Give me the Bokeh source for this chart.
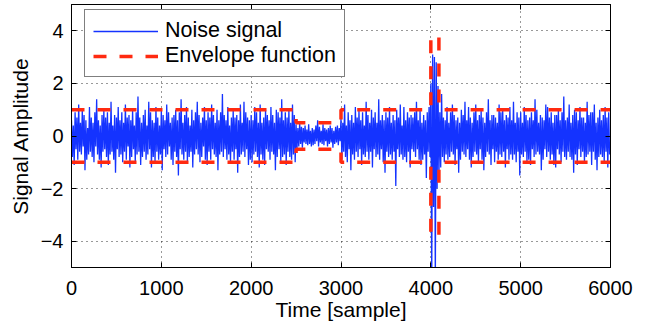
import numpy as np
from bokeh.plotting import figure
from bokeh.models import (LinearAxis, FixedTicker, Legend, LegendItem, Range1d,
                          ColumnDataSource, CustomLabelingPolicy)
from bokeh.embed import file_html
from bokeh.resources import INLINE

# ---------------- data ----------------
x_ticks = [0, 1000, 2000, 3000, 4000, 5000, 6000]
y_ticks = [-4, -2, 0, 2, 4]
y_tick_labels = ["\u22124", "\u22122", "0", "2", "4"]
x_label = "Time [sample]"
y_label = "Signal Amplitude"

sample_step = 10  # one value per 10 samples

# samples 0 .. 2490
noise_a = [
    .6, -.8, .4, -1.1, .9, -.5, .7, -.9, 1.2, -.6,
    .5, -.7, 1.0, -.4, .8, -1.3, .6, -.9, .3, -.7,
    1.1, -.6, .7, -.8, .5, -1.0, .9, -.4, 1.4, -.7,
    .6, -.9, .4, -1.2, .8, -.6, 1.0, -.5, .7, -.8,
    .9, -1.1, .5, -.7, 1.3, -.6, .4, -.9, .8, -1.4,
    .7, -.5, 1.1, -.8, .6, -.7, .9, -1.0, .5, -.6,
    1.2, -.9, .7, -.4, .8, -1.2, .6, -.8, 1.0, -.5,
    .4, -1.0, .9, -.7, 1.5, -.6, .7, -1.1, .5, -.8,
    .8, -.6, 1.0, -.9, .4, -.7, 1.3, -.5, .9, -1.2,
    .6, -.8, .5, -1.0, 1.1, -.6, .7, -.9, .4, -.7,
    1.0, -1.3, .8, -.5, .6, -.8, 1.2, -.7, .9, -.4,
    .5, -.9, .7, -1.1, .8, -.6, 1.0, -.8, .6, -1.5,
    .9, -.5, 1.4, -.7, .5, -.9, .8, -.6, 1.1, -1.0,
    .7, -.8, .4, -.6, 1.0, -1.2, .6, -.7, .9, -.5,
    1.3, -.7, .8, -1.0, .5, -.8, .7, -.4, 1.1, -.9,
    .6, -1.1, .9, -.6, .7, -.9, 1.2, -.5, .8, -.7,
    .5, -.8, 1.0, -1.3, .6, -.7, .9, -.6, 1.6, -.8,
    .8, -.5, .6, -.9, 1.1, -.7, .4, -1.0, .7, -.6,
    1.0, -.9, .7, -.5, .8, -1.4, .6, -.8, 1.2, -.7,
    .5, -.6, 1.3, -.8, .9, -.5, .7, -1.1, .6, -.9,
    .8, -1.0, .6, -.7, 1.1, -.6, .9, -.8, .5, -1.2,
    1.2, -.7, .5, -.9, .7, -1.1, 1.0, -.5, .8, -.6,
    .6, -.9, 1.1, -.6, .8, -.7, .5, -1.3, 1.0, -.8,
    .9, -.5, .7, -1.0, 1.4, -.8, .6, -.7, .9, -1.1,
    .7, -.6, 1.0, -.8, .5, -.9, 1.2, -.7, .8, -1.0,
]
# samples 2500 .. 2990 (quiet part)
noise_b = [
    .45, -.5, .3, -.4, .5, -.3, .35, -.45, .3, -.25,
    .4, -.3, .25, -.35, .45, -.3, .2, -.4, .3, -.35,
    .25, -.3, .4, -.2, .6, -.4, .35, -.25, .2, -.3,
    .45, -.35, .3, -.2, .25, -.4, .3, -.3, .4, -.25,
    .3, -.45, .2, -.3, .35, -.25, .4, -.35, .3, -.2,
]
# samples 3000 .. 3990
noise_c = [
    .7, -.9, .5, -.6, 1.2, -.8, .4, -1.0, .9, -.5,
    .6, -1.3, .8, -.7, .5, -.9, 1.1, -.6, .7, -.8,
    1.0, -.5, .6, -1.1, .9, -.7, .4, -.8, 1.3, -.6,
    .8, -.9, .5, -.6, 1.0, -1.2, .7, -.5, .9, -.8,
    .5, -.7, 1.4, -.9, .6, -.5, .8, -1.0, .6, -1.4,
    .9, -.6, .7, -.8, 1.1, -.7, .5, -.9, .8, -.6,
    .6, -1.9, 1.0, -.5, .7, -.8, 1.2, -.7, .4, -.9,
    1.1, -.8, .6, -1.0, .9, -.6, .7, -1.2, .8, -.5,
    .7, -.6, .9, -.8, 1.3, -.5, .6, -.9, 1.0, -1.1,
    .5, -.9, .8, -.7, .6, -1.6, .9, -.6, 1.1, -.8,
]
# samples 4000 .. 4090 (burst)
noise_d = [2.0, -5.6, 3.1, -2.7, 3.0, -5.6, 2.8, -2.0, 1.9, -1.6]
# samples 4100 .. 5990
noise_e = [
    .9, -1.2, 1.6, -.8, .7, -1.0, .6, -.7, 1.1, -.9,
    .5, -.8, .9, -.6, 1.2, -.7, .8, -1.1, .6, -.5,
    .7, -1.4, .5, -.9, 1.0, -.6, .8, -.7, 1.3, -.8,
    .6, -.5, 1.1, -.9, .7, -1.2, .5, -.8, .9, -.6,
    1.2, -.7, .6, -1.0, .8, -.5, 1.0, -.9, .7, -1.3,
    .5, -.8, .9, -.6, 1.4, -.7, .6, -1.1, .8, -.5,
    .8, -1.0, .7, -.6, .5, -.9, 1.2, -.7, .9, -.8,
    1.0, -.6, .6, -1.2, .8, -.5, .7, -.9, 1.1, -.7,
    .6, -.9, 1.3, -.7, .5, -1.0, .9, -.6, .7, -1.5,
    .9, -.7, .5, -.8, 1.1, -.6, .8, -1.0, .6, -.9,
    .7, -1.1, .9, -.5, .6, -.8, 1.4, -.7, 1.0, -.6,
    .5, -.7, .8, -1.3, .7, -.9, .6, -.5, 1.2, -.8,
    1.1, -.6, .7, -.9, .9, -.7, .5, -1.1, .8, -1.2,
    .8, -.5, 1.0, -.7, .6, -1.0, .9, -.6, 1.5, -.8,
    .6, -.9, .7, -.6, 1.2, -.8, .5, -.9, .8, -1.4,
    1.0, -.7, .9, -1.1, .6, -.5, 1.1, -.8, .7, -.6,
    .7, -1.0, .5, -.8, 1.3, -.7, .8, -.6, .9, -1.1,
    .9, -.6, 1.2, -.9, .5, -1.3, .7, -.8, 1.0, -.7,
    .6, -.8, .8, -1.0, 1.1, -.6, .7, -1.2, .9, -.7,
]

# envelope function (upper half; lower half is its mirror)
env_t_left = [0, 2500, 2500, 3000, 3000, 4000, 4000]
env_a_left = [1, 1, 0.5, 0.5, 1, 1, 4]
env_t_right = [4090, 4090, 6000]
env_a_right = [3.75, 1, 1]

# ---------------- figure ----------------
noise = np.array(noise_a + noise_b + noise_c + noise_d + noise_e, dtype=float)
t = np.arange(len(noise)) * sample_step

FONT = "Liberation Sans"

p = figure(width=642, height=328, output_backend="svg", toolbar_location=None,
           x_range=Range1d(0, 6000), y_range=Range1d(-5, 5),
           min_border_left=71, min_border_right=32, min_border_top=0, min_border_bottom=61,
           background_fill_color="white", border_fill_color="white")
p.outline_line_color = "black"
p.outline_line_width = 1
p.outline_line_alpha = 1

noise_src = ColumnDataSource(dict(t=t, y=noise))
r_noise = p.line("t", "y", source=noise_src, line_color="#1433ff", line_width=1.3)

ea_l = np.array(env_a_left, dtype=float)
ea_r = np.array(env_a_right, dtype=float)
env_src = ColumnDataSource(dict(
    xs=[env_t_left, env_t_left, env_t_right, env_t_right],
    ys=[ea_l, -ea_l, ea_r, -ea_r],
))
r_env = p.multi_line("xs", "ys", source=env_src, line_color="#ff2a10", line_width=3.5,
                     line_dash="13 13")

# axes
for ax in [p.xaxis[0], p.yaxis[0]]:
    ax.axis_line_color = "black"
    ax.major_tick_line_color = "black"
    ax.major_tick_in = 5
    ax.major_tick_out = 0
    ax.minor_tick_line_color = None
    ax.major_label_text_font = FONT
    ax.major_label_text_font_size = "20px"
    ax.major_label_text_color = "black"
    ax.axis_label_text_font = FONT
    ax.axis_label_text_font_size = "21px"
    ax.axis_label_text_font_style = "normal"
    ax.axis_label_text_color = "black"

p.xaxis[0].ticker = FixedTicker(ticks=x_ticks)
p.yaxis[0].ticker = FixedTicker(ticks=y_ticks)
p.yaxis[0].major_label_overrides = {v: s for v, s in zip(y_ticks, y_tick_labels)}
p.xaxis[0].axis_label = x_label
p.yaxis[0].axis_label = y_label
p.xaxis[0].major_label_standoff = 13
p.xaxis[0].axis_label_standoff = 0
p.yaxis[0].major_label_standoff = 8
p.yaxis[0].axis_label_standoff = 6

# mirrored tick-only axes on top and right (labels suppressed)
no_labels = CustomLabelingPolicy(code="return []")
top_ax = LinearAxis(ticker=FixedTicker(ticks=x_ticks), major_label_text_font_size="1px",
                    major_label_standoff=0, major_tick_in=5, major_tick_out=0,
                    major_label_policy=no_labels,
                    minor_tick_line_color=None, axis_line_color="black")
right_ax = LinearAxis(ticker=FixedTicker(ticks=y_ticks), major_label_text_font_size="1px",
                      major_label_standoff=0, major_tick_in=5, major_tick_out=0,
                      major_label_policy=no_labels,
                      minor_tick_line_color=None, axis_line_color="black")
p.add_layout(top_ax, "above")
p.add_layout(right_ax, "right")

# grid
p.xgrid.ticker = FixedTicker(ticks=x_ticks)
p.ygrid.ticker = FixedTicker(ticks=y_ticks)
for g in [p.xgrid[0], p.ygrid[0]]:
    g.grid_line_color = "black"
    g.grid_line_dash = "1 4"
    g.grid_line_alpha = 0.8
    g.grid_line_width = 1

# legend
legend = Legend(items=[LegendItem(label="Noise signal", renderers=[r_noise]),
                       LegendItem(label="Envelope function", renderers=[r_env])],
                location=(13, 190))
legend.label_text_font = FONT
legend.label_text_font_size = "21.5px"
legend.label_text_color = "black"
legend.glyph_width = 65
legend.glyph_height = 24
legend.label_height = 24
legend.label_standoff = 7
legend.spacing = 0
legend.padding = 8
legend.margin = 0
legend.border_line_color = "black"
legend.border_line_width = 1
legend.background_fill_alpha = 1
p.add_layout(legend, "center")

open("out.html", "w").write(file_html(p, INLINE))
